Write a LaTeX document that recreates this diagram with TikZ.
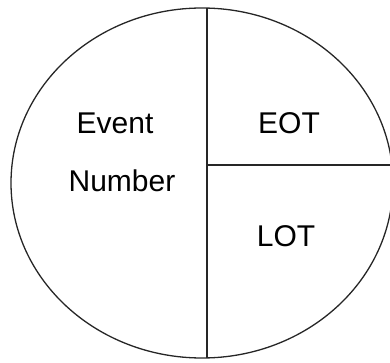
\documentclass[tikz,border=0pt]{standalone}
\usepackage{fontspec}
\setmainfont{Liberation Sans}
\begin{document}
\begin{tikzpicture}[x=1pt,y=-1pt,
  ln/.style={draw=black!85,line width=1.3pt},
  lbl/.style={font=\fontsize{30}{36}\selectfont,inner sep=0pt,anchor=base}]
\useasboundingbox (0,0) rectangle (390,363);
\begin{scope}
\clip (0,0) rectangle (390,363);
\draw[ln] (202,183) ellipse [x radius=191, y radius=175];
\end{scope}
\coordinate (top) at (207,8);
\coordinate (bot) at (207,358);
\coordinate (mid) at (207,165);
\coordinate (rgt) at (392,165);
\draw[ln] (top) -- (bot);
\draw[ln] (mid) -- (rgt);
\node[lbl] (ev) at (115,134) {Event};
\node[lbl] (nu) at (122,191) {Number};
\node[lbl] (eot) at (289,134) {EOT};
\node[lbl] (lot) at (286,246) {LOT};
\end{tikzpicture}
\end{document}
